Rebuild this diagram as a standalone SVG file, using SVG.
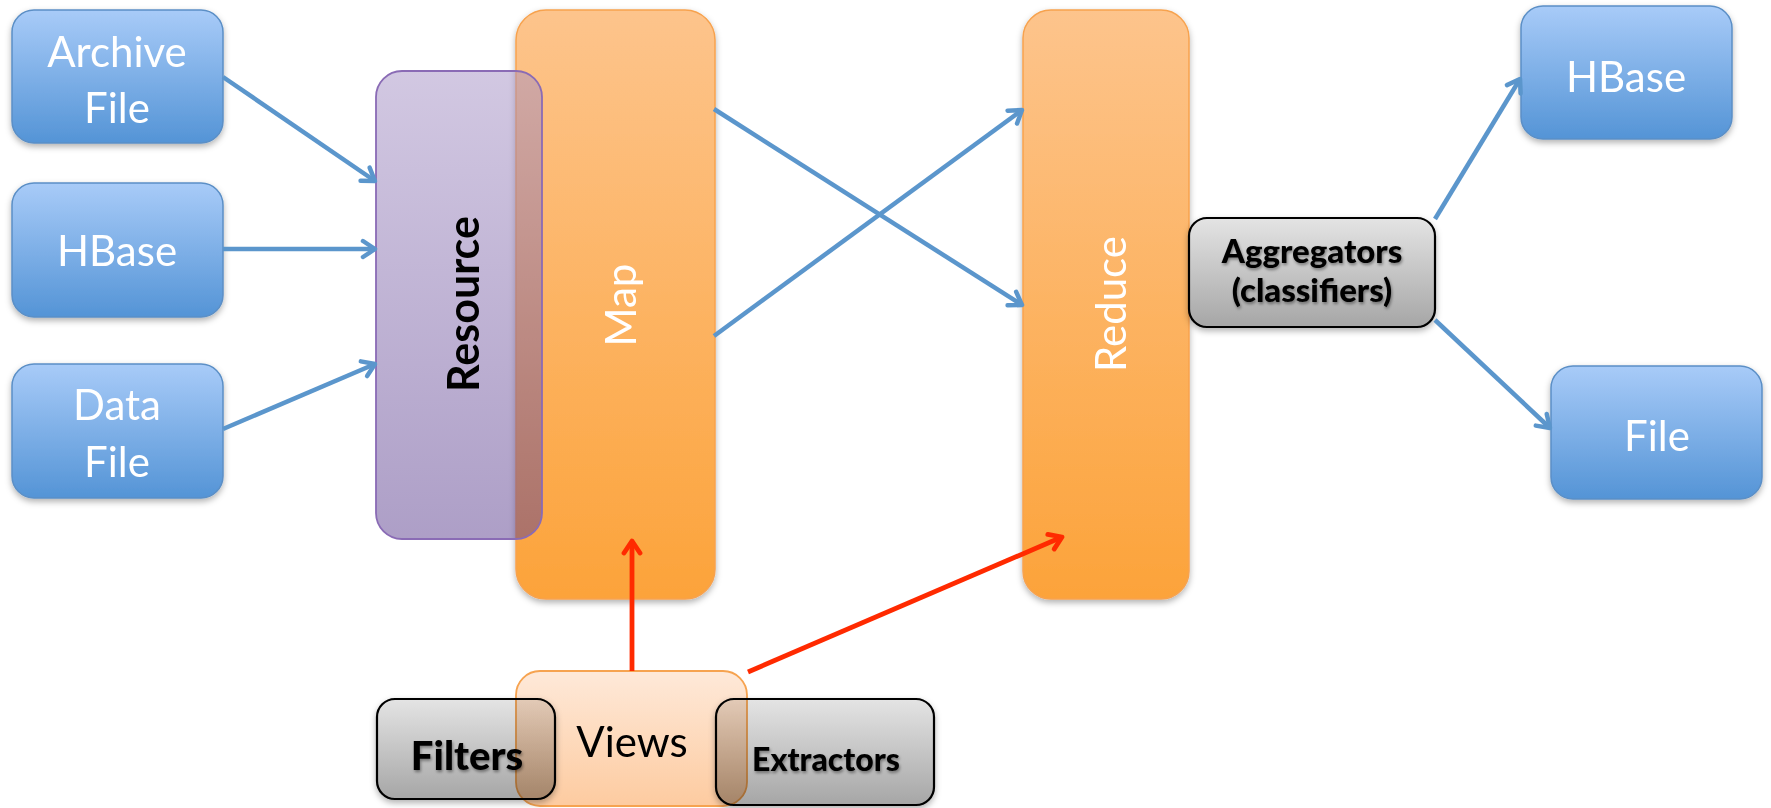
<svg xmlns="http://www.w3.org/2000/svg" width="1771" height="808" viewBox="0 0 1771 808">
<defs>
<linearGradient id="gBlue" x1="0" y1="0" x2="0" y2="1"><stop offset="0" stop-color="#a8cbf8"/><stop offset="1" stop-color="#5494d6"/></linearGradient>
<linearGradient id="gOrange" x1="0" y1="0" x2="0" y2="1"><stop offset="0" stop-color="#fdc48c"/><stop offset="1" stop-color="#fca33a"/></linearGradient>
<linearGradient id="gPurple" x1="0" y1="0" x2="0" y2="1"><stop offset="0" stop-color="#a591c5"/><stop offset="1" stop-color="#5c3f8f"/></linearGradient>
<linearGradient id="gGray" x1="0" y1="0" x2="0" y2="1"><stop offset="0" stop-color="#e4e4e4"/><stop offset="1" stop-color="#a6a6a6"/></linearGradient>
<linearGradient id="gPeach" x1="0" y1="0" x2="0" y2="1"><stop offset="0" stop-color="#fee9d9"/><stop offset="1" stop-color="#fdcba0"/></linearGradient>
<filter id="sh" x="-10%" y="-10%" width="120%" height="125%"><feDropShadow dx="0" dy="3" stdDeviation="3" flood-color="#000" flood-opacity="0.3"/></filter>
<filter id="tsh" x="-10%" y="-20%" width="120%" height="150%"><feDropShadow dx="1" dy="2" stdDeviation="1.5" flood-color="#000" flood-opacity="0.4"/></filter>
<marker id="aBlue" markerUnits="userSpaceOnUse" markerWidth="22" markerHeight="22" viewBox="0 0 22 22" refX="19" refY="11" orient="auto"><path d="M7,3 L19,11 L7,19" fill="none" stroke="#5b96cc" stroke-width="4.5" stroke-linecap="round" stroke-linejoin="round"/></marker>
<marker id="aRed" markerUnits="userSpaceOnUse" markerWidth="22" markerHeight="22" viewBox="0 0 22 22" refX="19" refY="11" orient="auto"><path d="M7,3 L19,11 L7,19" fill="none" stroke="#ff2a00" stroke-width="4.8" stroke-linecap="round" stroke-linejoin="round"/></marker>
</defs>
<style>
.blue{fill:url(#gBlue);stroke:#5b8fc6;stroke-width:1.5}
.orange{fill:url(#gOrange);stroke:#f7a24e;stroke-width:1.5}
.purple{fill:url(#gPurple);fill-opacity:0.5;stroke:#8a6bb5;stroke-width:1.8}
.gray{fill:url(#gGray);stroke:#000;stroke-width:2.2}
.peach{fill:url(#gPeach);stroke:#f6a350;stroke-width:1.8;mix-blend-mode:multiply}
.wt{font-family:Lato,"Open Sans",sans-serif;fill:#fff;font-size:42px;text-anchor:middle}
.bt{font-family:Lato,"Open Sans",sans-serif;fill:#000;text-anchor:middle}
.bold{font-weight:bold}
.heavy{font-weight:900}
.cb{fill:none;stroke:#5b96cc;stroke-width:4.5;marker-end:url(#aBlue)}
.cr{fill:none;stroke:#ff2a00;stroke-width:4.8;marker-end:url(#aRed)}
</style>
<rect width="1771" height="808" fill="#fff"/>
<g id="archive-file" filter="url(#sh)"><rect class="blue" x="12" y="10" width="211" height="133" rx="22"/><text class="wt" x="117" y="67">Archive</text><text class="wt" x="117" y="123">File</text></g>
<g id="hbase-in" filter="url(#sh)"><rect class="blue" x="12" y="183" width="211" height="134" rx="22"/><text class="wt" x="117" y="266">HBase</text></g>
<g id="data-file" filter="url(#sh)"><rect class="blue" x="12" y="364" width="211" height="134" rx="22"/><text class="wt" x="117" y="420">Data</text><text class="wt" x="117" y="477">File</text></g>
<g id="map" filter="url(#sh)"><rect class="orange" x="516" y="10" width="199" height="589" rx="30"/><text class="wt" font-size="43" transform="translate(636,305) rotate(-90)">Map</text></g>
<g id="resource"><rect class="purple" x="376" y="71" width="166" height="468" rx="26"/><text class="bt bold" font-size="43" transform="translate(479,304) rotate(-90)">Resource</text></g>
<g id="reduce" filter="url(#sh)"><rect class="orange" x="1023" y="10" width="166" height="589" rx="28"/><text class="wt" font-size="43" transform="translate(1126,304) rotate(-90)">Reduce</text></g>
<g id="aggregators"><rect class="gray" x="1189" y="218" width="246" height="109" rx="18" filter="url(#sh)"/><g filter="url(#tsh)"><text class="bt heavy" font-size="33" x="1312" y="263">Aggregators</text><text class="bt heavy" font-size="33" x="1312" y="302">(classifiers)</text></g></g>
<g id="hbase-out" filter="url(#sh)"><rect class="blue" x="1521" y="6" width="211" height="133" rx="22"/><text class="wt" x="1626" y="92">HBase</text></g>
<g id="file-out" filter="url(#sh)"><rect class="blue" x="1551" y="366" width="211" height="133" rx="22"/><text class="wt" x="1657" y="451">File</text></g>
<g id="filters"><rect class="gray" x="377" y="699" width="178" height="100" rx="18" filter="url(#sh)"/><text class="bt heavy" font-size="40" x="467" y="770" filter="url(#tsh)">Filters</text></g>
<g id="extractors"><rect class="gray" x="716" y="699" width="218" height="106" rx="18" filter="url(#sh)"/><text class="bt heavy" font-size="32" x="826" y="771" filter="url(#tsh)">Extractors</text></g>
<g id="views"><rect class="peach" x="516" y="671" width="231" height="135" rx="24"/><text class="bt" font-size="42" x="632" y="757">Views</text></g>
<g id="connectors">
<line class="cb" x1="223" y1="77" x2="375" y2="181"/>
<line class="cb" x1="223" y1="249" x2="375" y2="249"/>
<line class="cb" x1="223" y1="429" x2="375" y2="364"/>
<line class="cb" x1="714" y1="109" x2="1022" y2="305"/>
<line class="cb" x1="714" y1="336" x2="1022" y2="110"/>
<line class="cb" x1="1435" y1="219" x2="1520" y2="79"/>
<line class="cb" x1="1435" y1="320" x2="1550" y2="428"/>
<line class="cr" x1="632" y1="671" x2="632" y2="541"/>
<line class="cr" x1="748" y1="672" x2="1062" y2="537"/>
</g>
</svg>
